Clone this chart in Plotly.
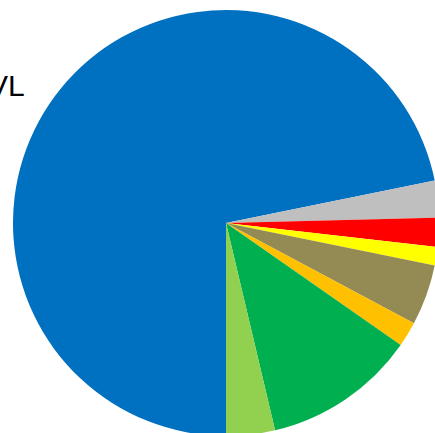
import plotly.graph_objects as go

categories = ["VL", "Gray", "Red", "Yellow", "Olive", "Orange", "Green", "Light green"]
values = [71.8, 2.8, 2.2, 1.4, 4.6, 1.9, 11.6, 3.7]
colors = ["#0070C0", "#BFBFBF", "#FF0000", "#FFFF00", "#948A54", "#FFC000", "#00B050", "#92D050"]

W, H = 460, 450
cx, cy, r = 226, 223, 213

fig = go.Figure(go.Pie(
    labels=categories,
    values=values,
    marker=dict(colors=colors, line=dict(width=0)),
    sort=False,
    direction="clockwise",
    rotation=180,
    textinfo="none",
    hoverinfo="label+percent",
    domain=dict(x=[(cx - r) / W, (cx + r) / W], y=[1 - (cy + r) / H, 1 - (cy - r) / H]),
))

fig.add_annotation(
    text="VL", xref="paper", yref="paper",
    x=27 / W, y=1 - 85 / H, xanchor="right", yanchor="middle",
    showarrow=False, font=dict(family="Liberation Sans, Arial", size=30, color="black"),
)

fig.update_layout(
    width=W, height=H, margin=dict(l=0, r=0, t=0, b=0),
    showlegend=False, paper_bgcolor="white", plot_bgcolor="white",
)

fig.write_html("out.html", config={"displayModeBar": False},
               post_script="document.body.style.margin='0';document.body.style.overflow='hidden';document.documentElement.style.overflow='hidden';")
